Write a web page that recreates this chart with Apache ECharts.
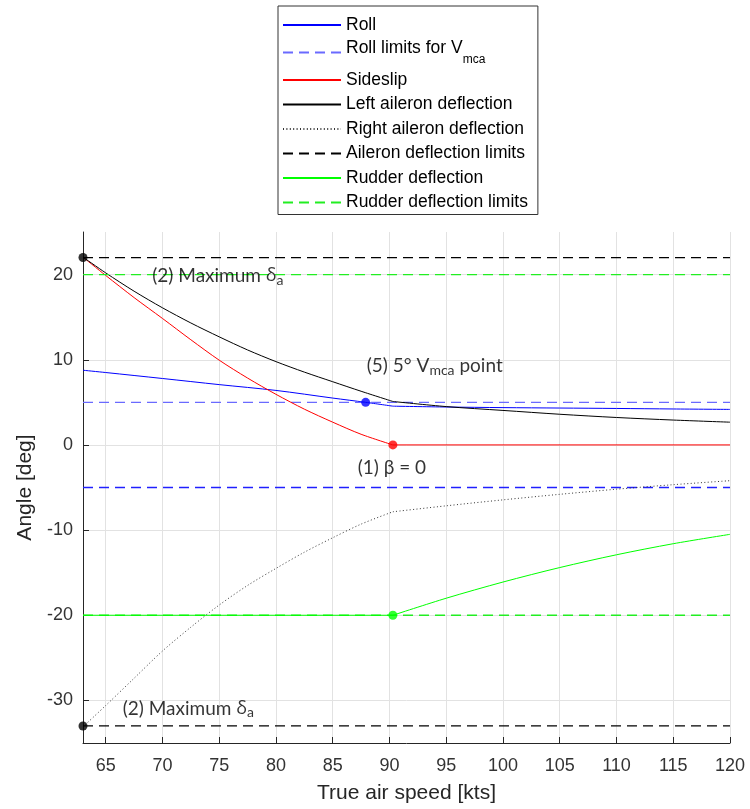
<!DOCTYPE html>
<html>
<head>
<meta charset="utf-8">
<script src="https://cdn.jsdelivr.net/npm/echarts@6/dist/echarts.min.js"></script>
<style>
html, body { margin: 0; padding: 0; background: #fff; }
#main { width: 750px; height: 809px; }
</style>
</head>
<body>
<div id="main"></div>
<script>
// tick labels
var xTicks = [65, 70, 75, 80, 85, 90, 95, 100, 105, 110, 115, 120];
var yTicks = [-30, -20, -10, 0, 10, 20];

// curves, [speed kts, angle deg], split at the kink near 90 kts
var rollA = [[63, 8.77], [65, 8.5], [70, 7.8], [75, 7.08], [80, 6.4], [85, 5.5], [87.9, 5.0], [90.3, 4.55]];
var rollB = [[90.3, 4.55], [95, 4.45], [100, 4.38], [105, 4.33], [110, 4.28], [115, 4.22], [120, 4.17]];
var sideslipA = [[63, 22.05], [65, 19.9], [67.5, 17.3], [70, 14.85], [72.5, 12.35], [75, 9.95], [77.5, 7.85],
    [80, 5.94], [82.5, 4.2], [85, 2.67], [87.5, 1.25], [90.3, 0]];
var sideslipB = [[90.3, 0], [120, 0]];
var leftAilA = [[63, 22.05], [65, 20.2], [67.5, 18.05], [70, 16.1], [72.5, 14.32], [75, 12.69], [77.5, 11.15],
    [80, 9.78], [82.5, 8.55], [85, 7.42], [87.5, 6.3], [90.3, 5.1]];
var leftAilB = [[90.3, 5.1], [95, 4.5], [100, 4.05], [105, 3.6], [110, 3.22], [115, 2.92], [120, 2.67]];
var rightAilA = [[63, -33.1], [65, -30.6], [67.5, -27.4], [70, -24.2], [72.5, -21.4], [75, -18.8],
    [77.5, -16.5], [80, -14.5], [82.5, -12.6], [85, -10.9], [87.5, -9.3], [90.3, -7.85]];
var rightAilB = [[90.3, -7.85], [95, -7.15], [100, -6.45], [105, -5.8], [110, -5.2], [115, -4.67], [120, -4.2]];
var rudderA = [[63, -20], [90.3, -20]];
var rudderB = [[90.3, -20], [95, -18.0], [100, -16.1], [105, -14.4], [110, -12.9], [115, -11.6], [120, -10.5]];

// limits
var rollLimUp = [[63, 5], [120, 5]];
var rollLimDown = [[63, -5], [120, -5]];
var ailLimUp = [[63, 22], [120, 22]];
var ailLimDown = [[63, -33], [120, -33]];
var rudLimUp = [[63, 20], [120, 20]];
var rudLimDown = [[63, -20], [120, -20]];

// marked points
var blackDots = [[63, 22], [63, -33]];
var blueDots = [[87.9, 5]];
var redDots = [[90.3, 0]];
var greenDots = [[90.3, -20]];

// annotations
var noteX = [69.1, 66.5, 88.0, 87.2];
var noteY = [19.8, -31.0, 9.25, -2.7];
var noteText = ['(2) Maximum {g|δ}{s|a}', '(2) Maximum {g|δ}{s|a}', '(5) 5° V{s|mca} point', '(1) β = 0'];

var legendNames = ['Roll', 'Roll limits', 'Sideslip', 'Left aileron deflection', 'Right aileron deflection',
    'Aileron deflection limits', 'Rudder deflection', 'Rudder deflection limits'];

var myChart = echarts.init(document.getElementById('main'));

function line(name, data, color, type, smooth, z, width) {
    return {
        name: name,
        type: 'line',
        data: data,
        symbol: 'none',
        smooth: smooth || false,
        z: z || 2,
        lineStyle: { color: color, width: width || 1, type: type || 'solid' },
        itemStyle: { color: color }
    };
}

// dashed limit lines are a bit heavier
function limit(name, data, color) {
    return line(name, data, color, [10, 6], false, 2, 1.3);
}

function dots(name, data, color) {
    return {
        name: name,
        type: 'scatter',
        data: data,
        symbolSize: 9,
        z: 5,
        itemStyle: { color: color }
    };
}

var notes = noteX.map(function (x, i) { return [x, noteY[i], noteText[i]]; });

var axisColor = '#262626';
var arial = '"Liberation Sans", Arial, sans-serif';
var noteFont = 'Lato, "Open Sans", sans-serif';

var option = {
    animation: false,
    backgroundColor: '#fff',
    grid: { left: 83, right: 20, top: 232, bottom: 66, outerBoundsMode: 'none' },
    legend: {
        data: legendNames,
        orient: 'vertical',
        left: 278,
        top: 6,
        padding: [9, 10, 2, 4],
        itemGap: 4.5,
        itemWidth: 58,
        itemHeight: 10,
        backgroundColor: '#fff',
        borderColor: '#333',
        borderWidth: 1,
        borderRadius: 0,
        selectedMode: false,
        itemStyle: { opacity: 0 },
        formatter: function (name) {
            return name === 'Roll limits' ? '{m|Roll limits for V}{s|mca}' : name;
        },
        textStyle: {
            fontFamily: arial,
            fontSize: 17.5,
            color: '#000',
            lineHeight: 20,
            rich: {
                m: { fontSize: 17.5, fontFamily: arial, color: '#000', verticalAlign: 'top', lineHeight: 25 },
                s: { fontSize: 12, fontFamily: arial, color: '#000', verticalAlign: 'bottom', lineHeight: 26 }
            }
        }
    },
    xAxis: {
        type: 'value',
        min: 63,
        max: 120,
        name: 'True air speed [kts]',
        nameLocation: 'middle',
        nameGap: 40,
        nameTextStyle: { fontFamily: arial, fontSize: 21, color: axisColor },
        axisLine: { show: true, onZero: false, lineStyle: { color: axisColor } },
        axisTick: { show: true, inside: true, length: 6, customValues: xTicks, lineStyle: { color: axisColor } },
        axisLabel: { customValues: xTicks, fontFamily: arial, fontSize: 18, color: '#333', margin: 14 },
        splitLine: { show: true, lineStyle: { color: '#e2e2e2' } }
    },
    yAxis: {
        type: 'value',
        min: -35,
        max: 25,
        name: 'Angle [deg]',
        nameLocation: 'middle',
        nameGap: 44,
        nameTextStyle: { fontFamily: arial, fontSize: 21, color: axisColor },
        axisLine: { show: true, onZero: false, lineStyle: { color: axisColor } },
        axisTick: { show: true, inside: true, length: 6, customValues: yTicks, lineStyle: { color: axisColor } },
        axisLabel: { customValues: yTicks, fontFamily: arial, fontSize: 18, color: '#333', margin: 10 },
        splitLine: { show: true, lineStyle: { color: '#e2e2e2' } }
    },
    series: [
        line('Roll', rollA, '#0000ff', 'solid', 0.3),
        limit('Roll limits', rollLimUp, '#6a6aff'),
        line('Sideslip', sideslipA, '#ff0000', 'solid', 0.3),
        line('Left aileron deflection', leftAilA, '#000000', 'solid', 0.3),
        line('Right aileron deflection', rightAilA, '#333333', [1, 2.4], 0.3),
        limit('Aileron deflection limits', ailLimUp, '#000000'),
        line('Rudder deflection', rudderA, '#00ff00', 'solid', false, 3),
        limit('Rudder deflection limits', rudLimUp, '#22ee22'),
        line('Roll b', rollB, '#0000ff', 'solid', 0.3),
        limit('Roll limits low', rollLimDown, '#2020ff'),
        line('Sideslip b', sideslipB, '#ff0000'),
        line('Left aileron b', leftAilB, '#000000', 'solid', 0.3),
        line('Right aileron b', rightAilB, '#333333', [1, 2.4], 0.3),
        limit('Aileron limits low', ailLimDown, '#000000'),
        line('Rudder b', rudderB, '#00ff00', 'solid', 0.3, 3),
        limit('Rudder limits low', rudLimDown, '#22ee22'),
        dots('black dots', blackDots, '#000000'),
        dots('blue dots', blueDots, '#0000ff'),
        dots('red dots', redDots, '#ff0000'),
        dots('green dots', greenDots, '#00ff00'),
        {
            name: 'notes',
            type: 'scatter',
            data: notes,
            symbolSize: 0,
            z: 6,
            label: {
                show: true,
                position: 'right',
                distance: 0,
                formatter: function (p) { return p.data[2]; },
                fontFamily: noteFont,
                fontSize: 19,
                color: '#000',
                lineHeight: 22,
                rich: {
                    g: { fontFamily: '"Open Sans", "DejaVu Sans", sans-serif', fontSize: 18, color: '#000', lineHeight: 22 },
                    s: { fontFamily: noteFont, fontSize: 14, color: '#000', verticalAlign: 'bottom', lineHeight: 16 }
                }
            }
        }
    ]
};
myChart.setOption(option);
</script>
</body>
</html>
